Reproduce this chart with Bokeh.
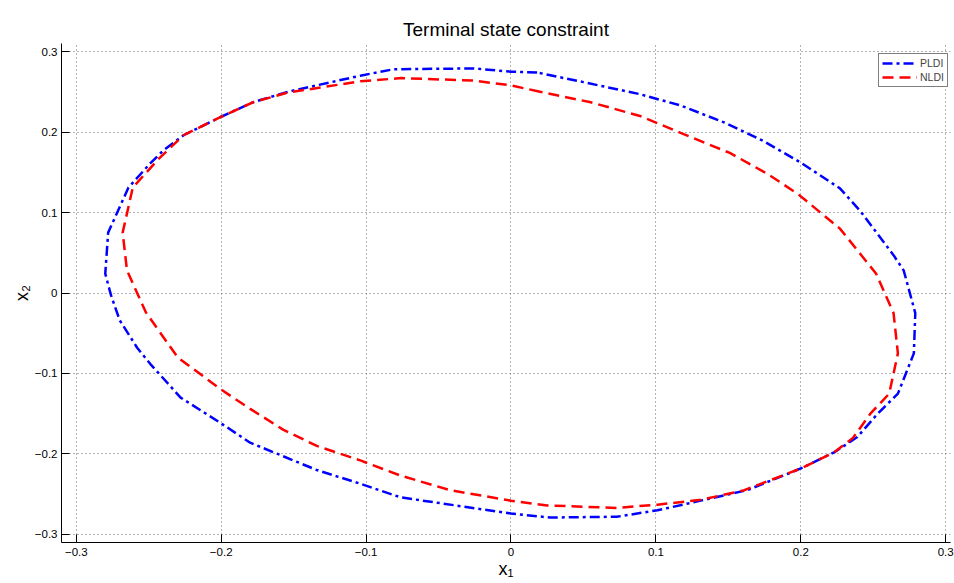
from bokeh.plotting import figure
from bokeh.models import FixedTicker, Legend, LegendItem
from bokeh.embed import file_html
from bokeh.resources import INLINE

# ---- data ----
pldi_x = [0.018, 0.0, -0.026, -0.081, -0.104, -0.154, -0.178, -0.2, -0.226, -0.240, -0.249, -0.264,
          -0.278, -0.280, -0.276, -0.270, -0.258, -0.249, -0.228, -0.2, -0.180, -0.161, -0.134,
          -0.104, -0.076, 0.0, 0.027, 0.073, 0.101, 0.131, 0.163, 0.2, 0.223, 0.239, 0.253,
          0.267, 0.278, 0.279, 0.271, 0.264, 0.241, 0.227, 0.2, 0.174, 0.147, 0.117, 0.089,
          0.05, 0.018]
pldi_y = [0.274, 0.275, 0.279, 0.278, 0.270, 0.250, 0.237, 0.219, 0.196, 0.177, 0.161, 0.131,
          0.075, 0.024, -0.003, -0.034, -0.068, -0.088, -0.130, -0.162, -0.186, -0.200, -0.220,
          -0.237, -0.254, -0.274, -0.279, -0.278, -0.270, -0.258, -0.245, -0.218, -0.198, -0.179,
          -0.150, -0.125, -0.075, -0.025, 0.028, 0.047, 0.102, 0.130, 0.162, 0.189, 0.212, 0.233,
          0.247, 0.262, 0.274]

nldi_x = [0.02, 0.0, -0.026, -0.076, -0.104, -0.154, -0.178, -0.2, -0.226, -0.243, -0.261,
          -0.268, -0.265, -0.252, -0.230, -0.2, -0.180, -0.157, -0.134, -0.104, -0.076, -0.042,
          0.0, 0.025, 0.073, 0.101, 0.131, 0.161, 0.2, 0.223, 0.236, 0.248, 0.261, 0.267, 0.264,
          0.252, 0.227, 0.198, 0.177, 0.151, 0.117, 0.089, 0.055, 0.02]
nldi_y = [0.25, 0.258, 0.264, 0.267, 0.263, 0.249, 0.237, 0.219, 0.196, 0.167, 0.131, 0.075,
          0.028, -0.024, -0.080, -0.120, -0.144, -0.170, -0.190, -0.208, -0.227, -0.245, -0.258,
          -0.264, -0.267, -0.263, -0.257, -0.245, -0.218, -0.198, -0.18, -0.15, -0.125, -0.075,
          -0.025, 0.024, 0.08, 0.123, 0.148, 0.174, 0.199, 0.220, 0.237, 0.25]

tick_values = [-0.3, -0.2, -0.1, 0.0, 0.1, 0.2, 0.3]
tick_labels = ["\u22120.3", "\u22120.2", "\u22120.1", "0", "0.1", "0.2", "0.3"]

FONT = "Liberation Sans"

p = figure(width=954, height=581, output_backend="svg", toolbar_location=None,
           x_range=(-0.3102, 0.3033), y_range=(-0.31, 0.31),
           min_border_left=61, min_border_right=4, min_border_top=43, min_border_bottom=30,
           title="Terminal state constraint")

p.title.text_font = FONT
p.title.text_font_size = "19px"
p.title.text_font_style = "normal"
p.title.text_color = "black"
p.title.align = "center"
p.title.offset = 6
p.title.standoff = 8
p.outline_line_color = None

r1 = p.line(pldi_x, pldi_y, line_color="#0000ff", line_width=2.5, line_dash="10 4 3 4")
r2 = p.line(nldi_x, nldi_y, line_color="#ff0000", line_width=2.5, line_dash="11 6")

overrides = {v: t for v, t in zip(tick_values, tick_labels)}
for ax in (p.xaxis[0], p.yaxis[0]):
    ax.ticker = FixedTicker(ticks=tick_values)
    ax.major_label_overrides = overrides
    ax.major_tick_in = 8
    ax.major_tick_out = 0
    ax.minor_tick_in = 0
    ax.minor_tick_out = 0
    ax.major_label_text_font = FONT
    ax.major_label_text_font_size = "11.5px"
    ax.major_label_text_color = "black"
    ax.axis_line_color = "black"
    ax.major_tick_line_color = "black"
    ax.axis_label_text_font = FONT
    ax.axis_label_text_font_size = "18px"
    ax.axis_label_text_font_style = "normal"
    ax.axis_label_text_color = "black"
    ax.axis_label_standoff = 0

p.xaxis.axis_label = "x\u2081"
p.yaxis.axis_label = "x\u2082"
p.xaxis.major_label_standoff = 5
p.yaxis.major_label_standoff = 4

for g in (p.xgrid[0], p.ygrid[0]):
    g.ticker = FixedTicker(ticks=tick_values)
    g.grid_line_color = "#666666"
    g.grid_line_dash = "1 3"
    g.grid_line_width = 1

legend = Legend(items=[LegendItem(label="PLDI", renderers=[r1]),
                       LegendItem(label="NLDI", renderers=[r2])],
                location=(817, 455))
legend.label_text_font = FONT
legend.label_text_font_size = "10.5px"
legend.glyph_width = 35
legend.glyph_height = 12
legend.label_height = 12
legend.label_standoff = 3
legend.spacing = 2
legend.padding = 3
legend.margin = 0
legend.border_line_color = "black"
legend.border_line_width = 1
legend.background_fill_color = "white"
legend.background_fill_alpha = 1
p.add_layout(legend)

open("out.html", "w").write(file_html(p, INLINE))
